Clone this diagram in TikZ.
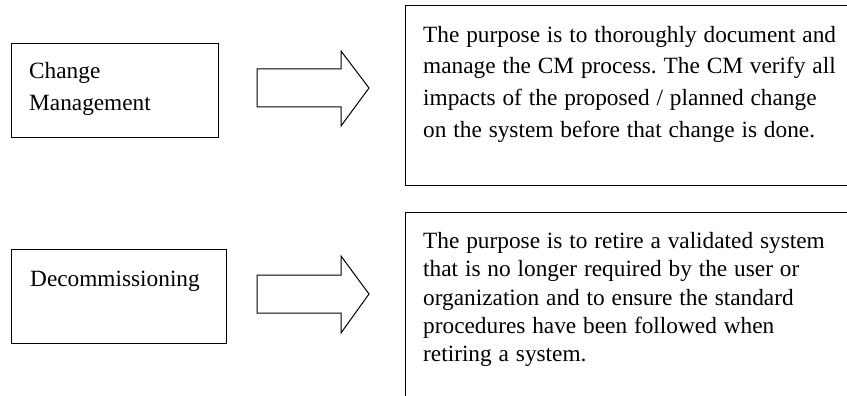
\documentclass[tikz,border=0pt]{standalone}
\usepackage{fontspec}
\setmainfont{Liberation Serif}
\frenchspacing
\newcommand\tightsp{\spaceskip=6.9pt\relax}
\begin{document}
\begin{tikzpicture}[x=1pt,y=-1pt,
  box/.style={draw=black, line width=1pt, inner sep=0pt, anchor=north west},
  lbl/.style={inner sep=0pt, anchor=base west, text width=#1, align=left},
  lbl/.default=400pt,
  blockarrow/.style={draw=black, line width=1pt, line join=miter}]
\clip (0,0) rectangle (847,396);
\path[use as bounding box] (0,0) rectangle (847,396);
% left boxes
\node[box, minimum width=207pt, minimum height=94pt] (cm) at (11,43) {};
\node[box, minimum width=215pt, minimum height=94pt] (dc) at (11,249) {};
% right boxes (run past the page edge)
\node[box, minimum width=460pt, minimum height=180pt] (cmd) at (405,5) {};
\node[box, minimum width=460pt, minimum height=200pt] (dcd) at (405,212) {};
% texts
\node[lbl=185pt, font=\fontsize{23.3}{32}\selectfont] (cmt) at (29,79) {Change\\Management};
\node[lbl=190pt, font=\fontsize{23.3}{32}\selectfont] (dct) at (30,286) {Decommissioning};
\node[lbl=520pt, font=\fontsize{23.3}{31.7}\selectfont] (cmdt) at (423,42.3)
  {\tightsp The purpose is to thoroughly document and\\manage the CM process. The CM verify all\\impacts of the proposed / planned change\\on the system before that change is done.};
\node[lbl=520pt, font=\fontsize{23.3}{28.4}\selectfont] (dcdt) at (423,248.3)
  {\tightsp The purpose is to retire a validated system\\that is no longer required by the user or\\organization and to ensure the standard\\procedures have been followed when\\retiring a system.};
% block arrows
\coordinate (a1s) at (257,88);
\coordinate (a1e) at (369,88);
\draw[blockarrow] (a1s) ++(0,-19) -- ++(84,0) -- ++(0,-18) -- (a1e) -- ++(-28,38) -- ++(0,-19) -- ++(-84,0) -- cycle;
\coordinate (a2s) at (257,294);
\coordinate (a2e) at (369,294);
\draw[blockarrow] (a2s) ++(0,-19) -- ++(84,0) -- ++(0,-19) -- (a2e) -- ++(-28,39) -- ++(0,-20) -- ++(-84,0) -- cycle;
\end{tikzpicture}
\end{document}
